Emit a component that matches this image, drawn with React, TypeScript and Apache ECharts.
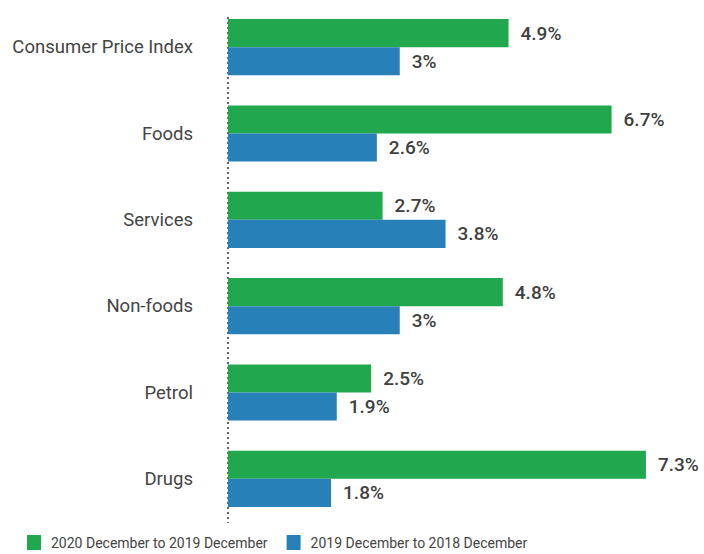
import React, { useEffect, useRef } from "react";
import * as echarts from "echarts";

const categories = ["Consumer Price Index", "Foods", "Services", "Non-foods", "Petrol", "Drugs"];
const series2020 = [4.9, 6.7, 2.7, 4.8, 2.5, 7.3];
const series2019 = [3, 2.6, 3.8, 3, 1.9, 1.8];
const seriesNames = ["2020 December to 2019 December", "2019 December to 2018 December"];
const colors = ["#21a74e", "#2880b9"];

export default function App() {
  const ref = useRef<HTMLDivElement>(null);
  useEffect(() => {
    if (!ref.current) return;
    const chart = echarts.init(ref.current, undefined, { renderer: "svg" });
    const font = "Roboto, 'Noto Sans', sans-serif";
    const mkLabel = () => ({
      show: true,
      position: "right" as const,
      distance: 12,
      formatter: "{c}%",
      fontSize: 19,
      fontWeight: 500,
      color: "#404040",
      fontFamily: font,
    });
    chart.setOption({
      animation: false,
      grid: { left: 228, right: 18, top: 4, bottom: 32, containLabel: false },
      xAxis: { type: "value", min: 0, max: 8, show: false },
      yAxis: {
        type: "category",
        data: categories,
        inverse: true,
        axisLine: { show: false },
        axisTick: { show: false },
        axisLabel: { fontSize: 18.5, color: "#444", margin: 35, fontFamily: font },
      },
      legend: {
        left: 27,
        top: 535,
        padding: 0,
        itemWidth: 14,
        itemHeight: 15,
        itemGap: 19,
        icon: "rect",
        textStyle: { fontSize: 14, lineHeight: 15, color: "#444", fontFamily: font, padding: [0, 0, 0, 5] },
        data: seriesNames,
      },
      graphic: [
        {
          type: "line",
          shape: { x1: 228, y1: 17, x2: 228, y2: 523 },
          style: { stroke: "#333", lineWidth: 1.5, lineDash: [2, 3] },
          silent: true,
        },
      ],
      series: [
        {
          name: seriesNames[0],
          type: "bar",
          data: series2020,
          itemStyle: { color: colors[0] },
          barGap: "0%",
          barCategoryGap: "35%",
          label: mkLabel(),
        },
        {
          name: seriesNames[1],
          type: "bar",
          data: series2019,
          itemStyle: { color: colors[1] },
          barGap: "0%",
          barCategoryGap: "35%",
          label: mkLabel(),
        },
      ],
    });
    return () => chart.dispose();
  }, []);
  return <div ref={ref} style={{ width: 704, height: 554, position: "absolute", left: 0, top: 0 }} />;
}
